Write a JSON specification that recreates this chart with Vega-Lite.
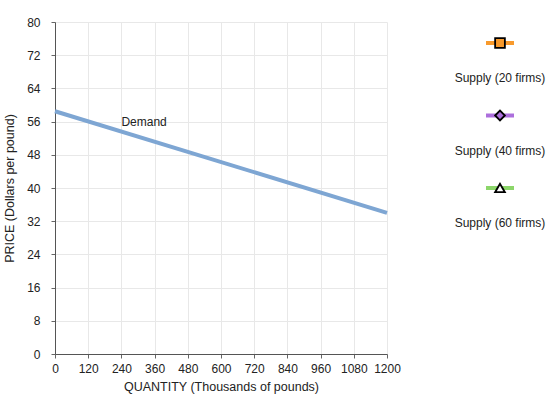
{
  "$schema": "https://vega.github.io/schema/vega-lite/v6.json",
  "background": "white",
  "padding": {"left": 3, "top": 16, "right": 5, "bottom": 5},
  "spacing": 53,
  "config": {
    "font": "Liberation Sans",
    "view": {"stroke": null},
    "axis": {
      "domainColor": "#555555",
      "tickColor": "#666666",
      "gridColor": "#e8e8e8",
      "labelColor": "#222222",
      "labelFontSize": 12,
      "labelOverlap": false,
      "labelFlush": false,
      "format": "d",
      "titleFontSize": 12.5,
      "titleFontWeight": "normal",
      "titleColor": "#222222",
      "tickSize": 4
    }
  },
  "hconcat": [
    {
      "width": 332,
      "height": 332,
      "encoding": {
        "x": {
          "field": "quantity", "type": "quantitative",
          "scale": {"domain": [0, 1200]},
          "axis": {"values": [0, 120, 240, 360, 480, 600, 720, 840, 960, 1080, 1200], "title": "QUANTITY (Thousands of pounds)", "labelPadding": 5, "titlePadding": 6}
        },
        "y": {
          "field": "price", "type": "quantitative",
          "scale": {"domain": [0, 80]},
          "axis": {"values": [0, 8, 16, 24, 32, 40, 48, 56, 64, 72, 80], "title": "PRICE (Dollars per pound)", "labelPadding": 11, "titlePadding": 10}
        }
      },
      "layer": [
        {
          "data": {"values": [
            {"quantity": 0, "price": 58.5},
            {"quantity": 1200, "price": 34}
          ]},
          "mark": {"type": "line", "color": "#7ea6d3", "strokeWidth": 4}
        },
        {
          "data": {"values": [{"quantity": 240, "price": 56, "label": "Demand"}]},
          "mark": {"type": "text", "align": "left", "baseline": "middle", "fontSize": 12, "color": "#222222"},
          "encoding": {
            "text": {"field": "label"}
          }
        }
      ]
    },
    {
      "width": 28,
      "height": 332,
      "data": {"values": [
        {"series": "Supply (20 firms)"},
        {"series": "Supply (40 firms)"},
        {"series": "Supply (60 firms)"}
      ]},
      "encoding": {
        "y": {"field": "series", "type": "nominal", "sort": null, "scale": {"type": "point", "range": [21, 166], "padding": 0}, "axis": null}
      },
      "layer": [
        {
          "mark": {"type": "rule", "strokeWidth": 4},
          "encoding": {
            "x": {"datum": -1, "type": "quantitative", "scale": {"domain": [-1, 1]}, "axis": null},
            "x2": {"datum": 1},
            "color": {"field": "series", "type": "nominal", "legend": null,
              "scale": {"domain": ["Supply (20 firms)", "Supply (40 firms)", "Supply (60 firms)"], "range": ["#f89a2c", "#ac6fdc", "#8cd66a"]}}
          }
        },
        {
          "mark": {"type": "point", "filled": true, "stroke": "black", "strokeWidth": 1.8, "size": 95, "opacity": 1},
          "encoding": {
            "x": {"datum": 0, "type": "quantitative"},
            "fill": {"field": "series", "type": "nominal", "legend": null,
              "scale": {"domain": ["Supply (20 firms)", "Supply (40 firms)", "Supply (60 firms)"], "range": ["#f89a2c", "#ac6fdc", "#ffffff"]}},
            "shape": {"field": "series", "type": "nominal", "legend": null,
              "scale": {"domain": ["Supply (20 firms)", "Supply (40 firms)", "Supply (60 firms)"], "range": ["square", "diamond", "triangle-up"]}}
          }
        },
        {
          "mark": {"type": "text", "dy": 35, "fontSize": 12, "color": "#222222"},
          "encoding": {
            "x": {"datum": 0, "type": "quantitative"},
            "text": {"field": "series"}
          }
        }
      ]
    }
  ]
}
